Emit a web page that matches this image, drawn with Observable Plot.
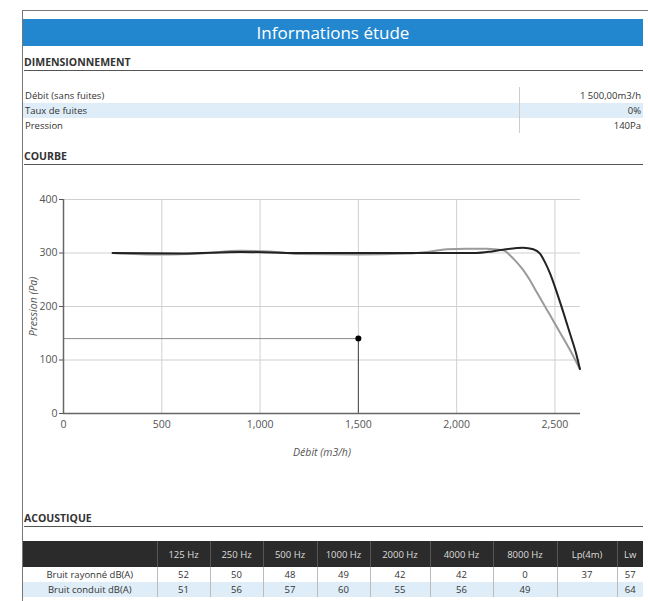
<!DOCTYPE html>
<html>
<head>
<meta charset="utf-8">
<script src="https://cdn.jsdelivr.net/npm/d3@7"></script>
<script src="https://cdn.jsdelivr.net/npm/@observablehq/plot@0.6"></script>
<style>
  html, body { margin: 0; padding: 0; background: #fff; }
  body { width: 648px; height: 601px; position: relative; overflow: hidden; font-family: "Open Sans", sans-serif; color: #333; }
  .abs { position: absolute; }
  .border-top { left: 22px; top: 10px; width: 626px; height: 1px; background: #777; }
  .border-left { left: 22px; top: 10px; width: 1px; height: 591px; background: #777; }
  .banner { left: 23px; top: 19px; width: 620px; height: 27px; background: #2387cf; color: #fff; font-size: 17px; text-align: center; line-height: 27px; }
  .section { left: 24px; width: 619px; font-size: 10.5px; font-weight: 700; color: #333; border-bottom: 1.5px solid #555; line-height: 14px; padding-bottom: 1px; }
  .info-row { left: 23px; width: 620px; height: 15px; font-size: 9.5px; line-height: 15px; color: #333; }
  .info-row .lab { position: absolute; left: 2px; }
  .info-row .val { position: absolute; right: 2px; }
  .divider { left: 519px; top: 87px; width: 1px; height: 46px; background: #ccc; }
  table.ac { position: absolute; left: 23px; top: 541px; width: 620px; border-collapse: collapse; font-size: 9.5px; table-layout: fixed; }
  table.ac th { background: #2b2b2b; color: #ddd; font-weight: 400; height: 26px; padding: 0; border-left: 1px solid #555; text-align: center; }
  table.ac th:first-child { border-left: none; }
  table.ac td { height: 15px; padding: 0; text-align: center; border-left: 1px solid #bbb; color: #333; line-height: 15px; }
  table.ac td:first-child { border-left: none; }
  table.ac tr.alt td { background: #deedf7; }
  #chart { position: absolute; left: 0; top: 170px; }
  #chart g[aria-label="x-axis label"] text, #chart g[aria-label="y-axis label"] text { font-style: italic; }
</style>
</head>
<body>
<div class="abs border-top"></div>
<div class="abs border-left"></div>
<div class="abs banner" id="banner"></div>
<div class="abs section" id="s1" style="top:55px"></div>
<div id="info"></div>
<div class="abs divider"></div>
<div class="abs section" id="s2" style="top:149px"></div>
<div id="chart"></div>
<div class="abs section" id="s3" style="top:511px"></div>
<div id="tablewrap"></div>
<script>
// ---- Text content ----
const titleText = "Informations étude";
const sectionTitles = ["DIMENSIONNEMENT", "COURBE", "ACOUSTIQUE"];
const infoLabels = ["Débit (sans fuites)", "Taux de fuites", "Pression"];
const infoValues = ["1 500,00m3/h", "0%", "140Pa"];

// ---- Operating point ----
const opDebit = 1500;
const opPression = 140;

// ---- Curves (Débit m3/h, Pression Pa) ----
const blackQ = [250, 600, 900, 1200, 1500, 1800, 2100, 2180, 2250, 2339, 2390, 2424, 2449, 2475, 2509, 2542, 2576, 2610, 2627];
const blackP = [300, 299, 302, 300, 300, 300, 300, 303, 307, 310, 307, 299, 283, 262, 227, 190, 150, 109, 83];
const grayQ = [250, 500, 700, 900, 1050, 1200, 1500, 1750, 1850, 1950, 2050, 2150, 2237, 2271, 2305, 2339, 2373, 2407, 2440, 2475, 2509, 2542, 2576, 2627];
const grayP = [300, 297, 299, 304, 303, 298, 297, 299, 302, 307, 308, 308, 305, 296, 283, 268, 249, 227, 206, 184, 162, 141, 119, 83];

// ---- Axis ticks ----
const xTicks = [0, 500, 1000, 1500, 2000, 2500];
const yTicks = [0, 100, 200, 300, 400];
const xLabel = "Débit (m3/h)";
const yLabel = "Pression (Pa)";

// ---- Acoustic table ----
const acHeaders = ["125 Hz", "250 Hz", "500 Hz", "1000 Hz", "2000 Hz", "4000 Hz", "8000 Hz", "Lp(4m)", "Lw"];
const acRowLabels = ["Bruit rayonné dB(A)", "Bruit conduit dB(A)"];
const acRayonne = ["52", "50", "48", "49", "42", "42", "0", "37", "57"];
const acConduit = ["51", "56", "57", "60", "55", "56", "49", "", "64"];
const acColWidths = [134, 53, 53, 54, 53, 60, 63, 64, 60, 26];

// ---- Build HTML pieces ----
document.getElementById("banner").textContent = titleText;
document.getElementById("s1").textContent = sectionTitles[0];
document.getElementById("s2").textContent = sectionTitles[1];
document.getElementById("s3").textContent = sectionTitles[2];

const info = document.getElementById("info");
const infoTops = [88, 103, 118];
infoLabels.forEach((lab, i) => {
  const row = document.createElement("div");
  row.className = "abs info-row";
  row.style.top = infoTops[i] + "px";
  if (i === 1) row.style.background = "#deedf7";
  const l = document.createElement("span"); l.className = "lab"; l.textContent = lab;
  const v = document.createElement("span"); v.className = "val"; v.textContent = infoValues[i];
  row.appendChild(l); row.appendChild(v);
  info.appendChild(row);
});

const table = document.createElement("table");
table.className = "ac";
const cg = document.createElement("colgroup");
acColWidths.forEach(w => { const c = document.createElement("col"); c.style.width = w + "px"; cg.appendChild(c); });
table.appendChild(cg);
const hr = document.createElement("tr");
hr.appendChild(document.createElement("th"));
acHeaders.forEach(h => { const th = document.createElement("th"); th.textContent = h; hr.appendChild(th); });
table.appendChild(hr);
[acRayonne, acConduit].forEach((vals, r) => {
  const tr = document.createElement("tr");
  if (r === 1) tr.className = "alt";
  const td0 = document.createElement("td"); td0.textContent = acRowLabels[r]; tr.appendChild(td0);
  vals.forEach(v => { const td = document.createElement("td"); td.textContent = v; tr.appendChild(td); });
  table.appendChild(tr);
});
document.getElementById("tablewrap").appendChild(table);

// ---- Chart ----
const blackData = blackQ.map((q, i) => ({q, p: blackP[i]}));
const grayData = grayQ.map((q, i) => ({q, p: grayP[i]}));

const chart = Plot.plot({
  width: 648,
  height: 310,
  marginTop: 29,
  marginBottom: 67,
  marginLeft: 63,
  marginRight: 68,
  style: {fontFamily: "Open Sans, sans-serif", fontSize: "10.5px", color: "#555", background: "transparent"},
  x: {domain: [0, 2630]},
  y: {domain: [0, 400]},
  marks: [
    Plot.gridX(xTicks, {stroke: "#d0d0d0", strokeOpacity: 1}),
    Plot.gridY(yTicks, {stroke: "#d0d0d0", strokeOpacity: 1}),
    Plot.axisX(xTicks, {tickSize: 0, tickPadding: 7, label: xLabel, labelAnchor: "center", labelArrow: "none", labelOffset: 42, fontSize: 10.5}),
    Plot.axisY(yTicks, {tickSize: 4, tickPadding: 2, label: yLabel, labelAnchor: "center", labelArrow: "none", labelOffset: 34, fontSize: 10.5}),
    Plot.ruleY([{y: opPression, x2: opDebit}], {y: "y", x1: 0, x2: "x2", stroke: "#8a8a8a", strokeWidth: 1}),
    Plot.ruleX([{x: opDebit, y2: opPression}], {x: "x", y1: 0, y2: "y2", stroke: "#444", strokeWidth: 1}),
    Plot.line(grayData, {x: "q", y: "p", stroke: "#9a9a9a", strokeWidth: 2, curve: "monotone-x"}),
    Plot.line(blackData, {x: "q", y: "p", stroke: "#222", strokeWidth: 2, curve: "monotone-x"}),
    Plot.ruleX([0], {stroke: "#666", strokeWidth: 1.5}),
    Plot.ruleY([0], {stroke: "#666", strokeWidth: 1.5}),
    Plot.dot([{x: opDebit, y: opPression}], {x: "x", y: "y", r: 3, fill: "#000"})
  ]
});
document.getElementById("chart").appendChild(chart);
</script>
</body>
</html>
